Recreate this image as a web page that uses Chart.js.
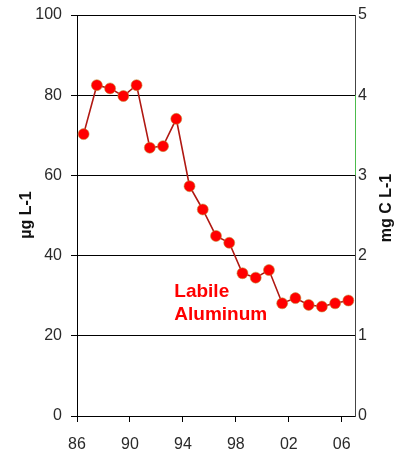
<!DOCTYPE html>
<html>
<head>
<meta charset="utf-8">
<script src="https://cdn.jsdelivr.net/npm/chart.js@4/dist/chart.umd.min.js"></script>
<style>
  html, body { margin: 0; padding: 0; background: #fff; }
  #wrap { width: 397px; height: 449px; position: relative; }
</style>
</head>
<body>
<div id="wrap"><canvas id="c" width="397" height="449"></canvas></div>
<script>
// Sampling years (plotted at mid-year)
const years = [1986, 1987, 1988, 1989, 1990, 1991, 1992, 1993, 1994, 1995, 1996,
               1997, 1998, 1999, 2000, 2001, 2002, 2003, 2004, 2005, 2006];
// Labile aluminum, µg L-1
const labileAl = [70.3, 82.5, 81.7, 79.8, 82.5, 66.9, 67.3, 74.1, 57.3, 51.5, 44.9,
                  43.2, 35.6, 34.5, 36.4, 28.1, 29.4, 27.7, 27.3, 28.1, 28.8];
// Axis tick values
const xTickYears = [1986, 1990, 1994, 1998, 2002, 2006];
const leftTicks = [0, 20, 40, 60, 80, 100];
const rightTicks = [0, 1, 2, 3, 4, 5];

const FONT = "'Liberation Sans', Arial, sans-serif";
const TICK_COLOR = '#2a2a2a';

const points = years.map((y, i) => ({ x: y + 0.5, y: labileAl[i] }));

// Axis titles, series label and the green stretch of the right axis line
const decorations = {
  id: 'decorations',
  afterDraw(chart) {
    const ctx = chart.ctx;
    const xs = chart.scales.x, yl = chart.scales.y, yr = chart.scales.y1;
    ctx.save();
    // green segment on the right axis between 3 and 4
    ctx.strokeStyle = '#4cbb4c';
    ctx.lineWidth = 1;
    ctx.beginPath();
    ctx.moveTo(yr.left + 0.5, yr.getPixelForValue(4));
    ctx.lineTo(yr.left + 0.5, yr.getPixelForValue(3));
    ctx.stroke();

    // axis titles
    ctx.fillStyle = '#111';
    ctx.font = 'bold 16px ' + FONT;
    ctx.textAlign = 'center';
    ctx.textBaseline = 'middle';
    ctx.save();
    ctx.translate(27, 215);
    ctx.rotate(-Math.PI / 2);
    ctx.fillText('µg L-1', 0, 0);
    ctx.restore();
    ctx.save();
    ctx.translate(387, 208);
    ctx.rotate(-Math.PI / 2);
    ctx.fillText('mg C L-1', 0, 0);
    ctx.restore();

    // series label
    ctx.fillStyle = '#ff0000';
    ctx.font = 'bold 19px ' + FONT;
    ctx.textAlign = 'left';
    ctx.textBaseline = 'alphabetic';
    const lx = xs.getPixelForValue(1993.35);
    ctx.fillText('Labile', lx, yl.getPixelForValue(29.7));
    ctx.fillText('Aluminum', lx, yl.getPixelForValue(24.0));
    ctx.restore();
  }
};

// vertical axes: fixed width, no extra room above/below for end labels
const fitVertical = w => scale => {
  scale.width = w;
  scale.paddingTop = 0;
  scale.paddingBottom = 0;
};

new Chart(document.getElementById('c'), {
  type: 'line',
  data: {
    datasets: [{
      label: 'Labile Aluminum',
      data: points,
      yAxisID: 'y',
      borderColor: '#b01812',
      borderWidth: 1.6,
      backgroundColor: '#ff0000',
      pointBackgroundColor: '#ff0000',
      pointBorderColor: 'rgba(190,150,60,0.55)',
      pointBorderWidth: 1,
      pointRadius: 5.5,
      tension: 0
    }]
  },
  options: {
    responsive: false,
    animation: false,
    devicePixelRatio: 1,
    layout: { padding: { top: 15, left: 0, right: 0, bottom: 0 } },
    plugins: { legend: { display: false }, tooltip: { enabled: false } },
    scales: {
      x: {
        type: 'linear',
        min: 1986,
        max: 2007,
        afterBuildTicks(scale) { scale.ticks = xTickYears.map(v => ({ value: v })); },
        afterFit(scale) { scale.height = 33; scale.paddingLeft = 0; scale.paddingRight = 0; },
        ticks: {
          color: TICK_COLOR,
          font: { family: FONT, size: 16 },
          padding: 13,
          maxRotation: 0,
          callback: v => String(v % 100).padStart(2, '0')
        },
        grid: { drawOnChartArea: false, drawTicks: true, tickLength: 6, color: '#000' },
        border: { display: true, color: '#000', width: 1 }
      },
      y: {
        position: 'left',
        min: 0,
        max: 100,
        afterBuildTicks(scale) { scale.ticks = leftTicks.map(v => ({ value: v })); },
        afterFit: fitVertical(77),
        ticks: {
          color: TICK_COLOR,
          font: { family: FONT, size: 16 },
          padding: 9
        },
        grid: { color: '#000', lineWidth: 1, drawTicks: true, tickLength: 6 },
        border: { display: true, color: '#000', width: 1 }
      },
      y1: {
        position: 'right',
        min: 0,
        max: 5,
        afterBuildTicks(scale) { scale.ticks = rightTicks.map(v => ({ value: v })); },
        afterFit: fitVertical(42),
        ticks: {
          color: TICK_COLOR,
          font: { family: FONT, size: 16 },
          padding: 3
        },
        grid: { drawOnChartArea: false, drawTicks: false },
        border: { display: true, color: '#444', width: 1 }
      }
    }
  },
  plugins: [decorations]
});
</script>
</body>
</html>
